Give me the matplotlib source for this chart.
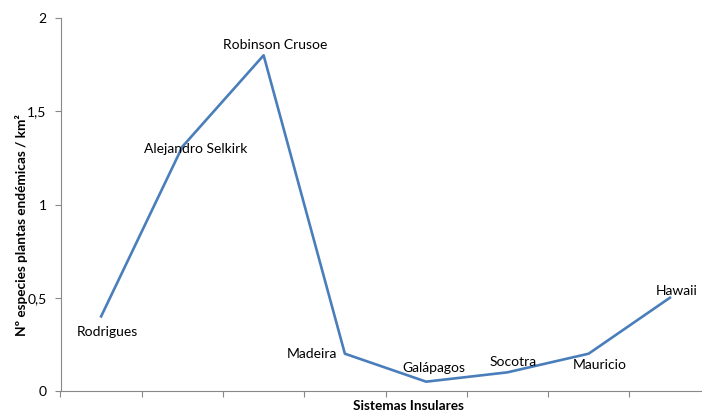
"""Endemic plants per km2 by island system"""

import numpy as np
import matplotlib
matplotlib.use("Agg")
import matplotlib.pyplot as plt

islas = ["Rodrigues", "Alejandro Selkirk", "Robinson Crusoe", "Madeira",
         "Galápagos", "Socotra", "Mauricio", "Hawaii"]
especies_km2 = [0.4, 1.31, 1.8, 0.2, 0.05, 0.1, 0.2, 0.5]
# label offsets in points (dx, dy)
etiquetas_off = [(4.3, -10.9), (9.4, -1.6), (8.6, 7.2), (-23.8, -0.5),
                 (5.8, 9.6), (4.3, 7.6), (7.9, -7.8), (5, 5)]
y_ticks = [0, 0.5, 1, 1.5, 2]
y_ticklabels = ["0", "0,5", "1", "1,5", "2"]

plt.rcParams["font.family"] = ["Lato", "DejaVu Sans"]

fig = plt.figure(figsize=(7.02, 4.13), dpi=100)
ax = fig.add_axes([60.5 / 702, 22 / 413, 650 / 702, 373 / 413])

x = np.arange(len(islas))
ax.plot(x, especies_km2, color="#4A7EBB", lw=1.9)

for xi, yi, nombre, (dx, dy) in zip(x, especies_km2, islas, etiquetas_off):
    ax.annotate(nombre, (xi, yi), xytext=(dx, dy), textcoords="offset points",
                ha="center", va="center", fontsize=10, color="black")

ax.set_xlim(-0.5, 7.5)
ax.set_ylim(0, 2)
ax.set_xticks(np.arange(-0.5, 8, 1))
ax.set_xticklabels([])
ax.set_yticks(y_ticks)
ax.set_yticklabels(y_ticklabels, fontsize=10)

for s in ["top", "right"]:
    ax.spines[s].set_visible(False)
for s in ["left", "bottom"]:
    ax.spines[s].set_color("#888888")
    ax.spines[s].set_linewidth(0.8)
ax.tick_params(axis="both", color="#888888", length=4, width=0.8)
ax.tick_params(axis="y", pad=6)

fig.text(22 / 702, 1 - 225 / 413, "Nº especies plantas endémicas / km²",
         rotation=90, ha="center", va="center", fontsize=9.8,
         fontweight="bold")
fig.text(408 / 702, 1 - 406 / 413, "Sistemas Insulares", ha="center",
         va="center", fontsize=9.8, fontweight="bold")

fig.savefig("out.png", dpi=100)
